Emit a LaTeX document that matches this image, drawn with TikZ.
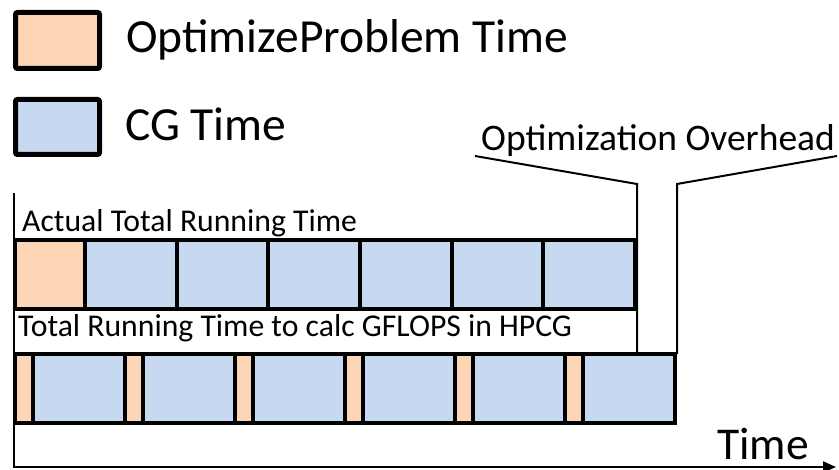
\documentclass[tikz,border=0pt]{standalone}
\usepackage{fontspec}
\setmainfont{Carlito}
\usetikzlibrary{arrows.meta}
\definecolor{optcol}{RGB}{251,213,181}
\definecolor{cgcol}{RGB}{198,217,241}
\begin{document}
\begin{tikzpicture}[x=1pt,y=-1pt,
    opt/.style={fill=optcol,draw=black,line width=4pt},
    cg/.style={fill=cgcol,draw=black,line width=4pt},
    lbl/.style={anchor=base west,inner sep=0pt}]
	\useasboundingbox (0,0) rectangle (839,470);
	% legend
	\filldraw [opt,line width=5pt,rounded corners=2pt] (15.5,12.5) rectangle (99.5,68.5);
	\node [lbl,font=\fontsize{47.5}{50}\selectfont] (legopt) at (126,53) {OptimizeProblem Time};
	\filldraw [cg,line width=5pt,rounded corners=2pt] (15.5,99.5) rectangle (99.5,154.5);
	\node [lbl,font=\fontsize{47.5}{50}\selectfont] (legcg) at (125,141) {CG Time};
	% actual running time
	\node [lbl,font=\fontsize{31.7}{34}\selectfont] (actual) at (22,232) {Actual Total Running Time};
	\filldraw [opt] (15,240) rectangle (85,309);
	\filldraw [cg] (85,240) rectangle (176.7,309);
	\filldraw [cg] (176.7,240) rectangle (268.3,309);
	\filldraw [cg] (268.3,240) rectangle (360,309);
	\filldraw [cg] (360,240) rectangle (451.7,309);
	\filldraw [cg] (451.7,240) rectangle (543.3,309);
	\filldraw [cg] (543.3,240) rectangle (635,309);
	% time used for GFLOPS
	\node [lbl,font=\fontsize{31.7}{34}\selectfont] (hpcg) at (18,337) {Total Running Time to calc GFLOPS in HPCG};
	\filldraw [opt] (15,354) rectangle (33,423);
	\filldraw [cg] (33,354) rectangle (125,423);
	\filldraw [opt] (125,354) rectangle (143,423);
	\filldraw [cg] (143,354) rectangle (235,423);
	\filldraw [opt] (235,354) rectangle (253,423);
	\filldraw [cg] (253,354) rectangle (345,423);
	\filldraw [opt] (345,354) rectangle (363,423);
	\filldraw [cg] (363,354) rectangle (455,423);
	\filldraw [opt] (455,354) rectangle (473,423);
	\filldraw [cg] (473,354) rectangle (565,423);
	\filldraw [opt] (565,354) rectangle (583,423);
	\filldraw [cg] (583,354) rectangle (675,423);
	% overhead marker
	\node [lbl,font=\fontsize{37.5}{40}\selectfont] (ovh) at (481,151) {Optimization Overhead};
	\coordinate (ovhL) at (475,156);
	\coordinate (ovhR) at (837,156);
	\coordinate (endA) at (637,354);
	\coordinate (endB) at (677,354);
	\draw [line width=2pt] (ovhL) -- (637,184) -- (endA);
	\draw [line width=2pt] (ovhR) -- (677,184) -- (endB);
	% time axis
	\draw [line width=2pt,-{Triangle[length=13pt,width=11pt]}] (14,193) -- (14,467) -- (836,467);
	\node [lbl,font=\fontsize{45.5}{48}\selectfont] (time) at (717,460) {Time};
\end{tikzpicture}
\end{document}
